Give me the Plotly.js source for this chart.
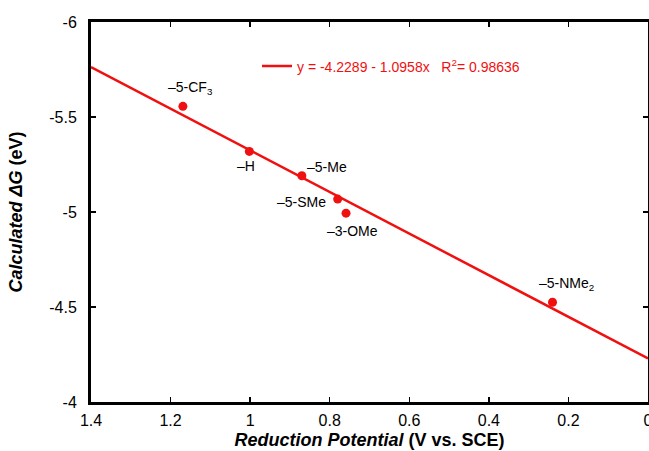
<!DOCTYPE html>
<html>
<head>
<meta charset="utf-8">
<script src="https://cdn.plot.ly/plotly-3.0.1.min.js"></script>
<style>html,body{margin:0;padding:0;background:#fff;}#chart{width:649px;height:451px;}</style>
</head>
<body>
<div id="chart"></div>
<script>
// Data
const labels = ["–5-CF<sub>3</sub>", "–H", "–5-Me", "–5-SMe", "–3-OMe", "–5-NMe<sub>2</sub>"];
const potentials = [1.169, 1.002, 0.870, 0.780, 0.759, 0.240];
const deltaG = [-5.556, -5.319, -5.191, -5.068, -4.994, -4.525];
const fitX = [1.4, 0];
const fitY = [-5.763, -4.229];
const fitLabel = "y = -4.2289 - 1.0958x   R<sup>2</sup>= 0.98636";
const xTicks = [1.4, 1.2, 1, 0.8, 0.6, 0.4, 0.2, 0];
const xTickText = ["1.4", "1.2", "1", "0.8", "0.6", "0.4", "0.2", "0"];
const yTicks = [-6, -5.5, -5, -4.5, -4];
const yTickText = ["-6", "-5.5", "-5", "-4.5", "-4"];
// label offsets (px) relative to each point
const labelShiftX = [8, -3, 25, -36, 6, 14];
const labelShiftY = [18, -15, 9, -3, -18, 18];

const RED = "#f01010";
const FONT = "Liberation Sans, Arial, Helvetica, sans-serif";

const traces = [
  {x: fitX, y: fitY, mode: "lines", name: fitLabel, line: {color: RED, width: 2.5}, showlegend: true, hoverinfo: "skip"},
  {x: potentials, y: deltaG, mode: "markers", marker: {color: RED, size: 9}, showlegend: false}
];

const annotations = labels.map((t, i) => ({
  x: potentials[i], y: deltaG[i], xref: "x", yref: "y", text: t, showarrow: false,
  xshift: labelShiftX[i], yshift: labelShiftY[i], font: {family: FONT, size: 14, color: "#000"}
}));

const axisCommon = {
  showgrid: false, zeroline: false, showline: true, linecolor: "#000", linewidth: 3,
  mirror: "ticks", ticks: "inside", ticklen: 5, tickwidth: 1.5, tickcolor: "#000",
  tickfont: {family: FONT, size: 16, color: "#000"}, tickmode: "array",
  ticklabeloverflow: "allow"
};

const layout = {
  width: 649, height: 451,
  margin: {l: 91, r: 1, t: 22, b: 49},
  paper_bgcolor: "#fff", plot_bgcolor: "#fff",
  font: {family: FONT, color: "#000"},
  xaxis: Object.assign({}, axisCommon, {
    range: [1.4, 0], tickvals: xTicks, ticktext: xTickText, ticklabelstandoff: 2,
    title: {text: "<b><i>Reduction Potential</i> (V vs. SCE)</b>", font: {family: FONT, size: 18, color: "#000"}, standoff: 6}
  }),
  yaxis: Object.assign({}, axisCommon, {
    range: [-4, -6], tickvals: yTicks, ticktext: yTickText, ticklabelstandoff: 8,
    title: {text: "<b><i>Calculated ΔG</i> (eV)</b>", font: {family: FONT, size: 18, color: "#000"}, standoff: 22}
  }),
  showlegend: true,
  legend: {x: 0.298, y: 0.925, xanchor: "left", yanchor: "top", bgcolor: "rgba(0,0,0,0)",
    font: {family: FONT, size: 14, color: RED}},
  annotations: annotations
};

Plotly.newPlot("chart", traces, layout, {displayModeBar: false, staticPlot: true});
</script>
</body>
</html>
